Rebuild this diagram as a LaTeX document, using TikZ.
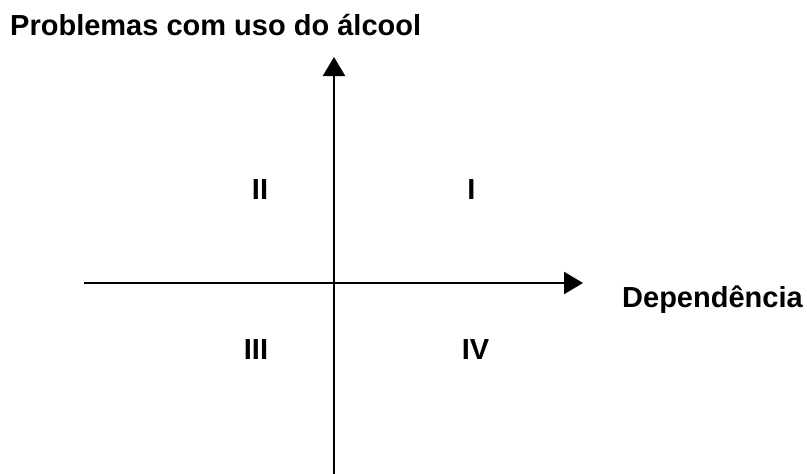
\documentclass[tikz,border=0pt]{standalone}
\usepackage{fontspec}
\setmainfont{Liberation Sans}
\usetikzlibrary{arrows.meta}
\begin{document}
\begin{tikzpicture}[x=1pt,y=-1pt,
  axis/.style={line width=2.4pt,-{Triangle[length=19pt,width=22pt]}},
  lbl/.style={font=\bfseries\fontsize{29pt}{34pt}\selectfont,inner sep=0pt}]
\useasboundingbox (0,0) rectangle (807,474);
\coordinate (ybot) at (334,476);
\coordinate (ytop) at (334,57);
\coordinate (xleft) at (84,283);
\coordinate (xright) at (583,283);
\draw[axis] (ybot) -- (ytop);
\draw[axis] (xleft) -- (xright);
\node[lbl,anchor=base west] (title) at (10,35) {Problemas com uso do álcool};
\node[lbl,anchor=base west] (dep) at (622,307) {Dependência};
\node[lbl,anchor=base] (q2) at (260,199) {II};
\node[lbl,anchor=base] (q1) at (471.5,199) {I};
\node[lbl,anchor=base] (q3) at (256,359) {III};
\node[lbl,anchor=base] (q4) at (475.5,359) {IV};
\end{tikzpicture}
\end{document}
